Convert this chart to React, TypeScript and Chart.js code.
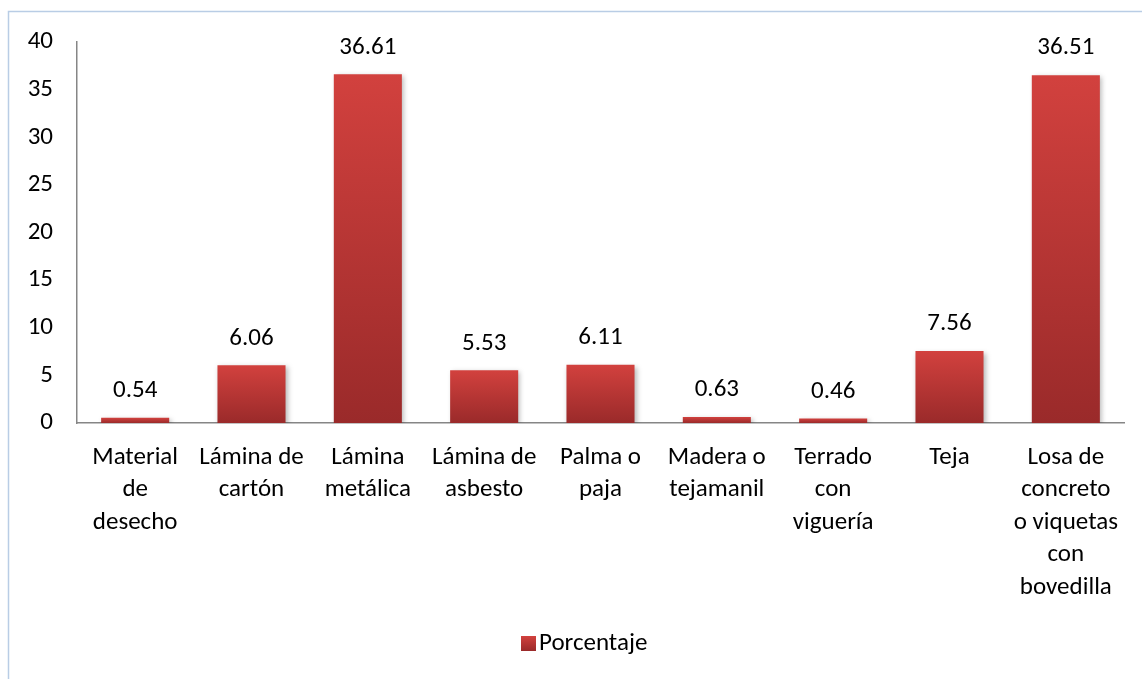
import React, { useEffect, useRef } from "react";
import { Chart, registerables } from "chart.js";

Chart.register(...registerables);

const categories: string[][] = [
  ["Material", "de", "desecho"],
  ["Lámina de", "cartón"],
  ["Lámina", "metálica"],
  ["Lámina de", "asbesto"],
  ["Palma o", "paja"],
  ["Madera o", "tejamanil"],
  ["Terrado", "con", "viguería"],
  ["Teja"],
  ["Losa de", "concreto", "o viquetas", "con", "bovedilla"],
];
const porcentaje: number[] = [0.54, 6.06, 36.61, 5.53, 6.11, 0.63, 0.46, 7.56, 36.51];
const seriesName = "Porcentaje";
const yTicks = { min: 0, max: 40, step: 5 };

const FONT = "Carlito, Calibri, Lato, 'Open Sans', sans-serif";
const FS = 25;
const TOP_COLOR = "#d2413e";
const BOTTOM_COLOR = "#9a2a2a";

function gradientFor(ctx: CanvasRenderingContext2D, top: number, bottom: number) {
  const g = ctx.createLinearGradient(0, top, 0, bottom);
  g.addColorStop(0, TOP_COLOR);
  g.addColorStop(1, BOTTOM_COLOR);
  return g;
}

const framePlugin = {
  id: "frame",
  beforeDraw(chart: any) {
    const c = chart.ctx;
    c.save();
    c.fillStyle = "#ffffff";
    c.fillRect(0, 0, chart.width, chart.height);
    c.strokeStyle = "#b9cde5";
    c.lineWidth = 1.5;
    c.beginPath();
    c.moveTo(8.5, chart.height + 5);
    c.lineTo(8.5, 11.5);
    c.lineTo(chart.width + 5, 11.5);
    c.stroke();
    c.restore();
  },
};

const shadowPlugin = {
  id: "barShadow",
  beforeDatasetsDraw(chart: any) {
    const c = chart.ctx;
    c.save();
    c.shadowColor = "rgba(0,0,0,0.28)";
    c.shadowBlur = 5;
    c.shadowOffsetX = 2;
    c.shadowOffsetY = 2;
  },
  afterDatasetsDraw(chart: any) {
    chart.ctx.restore();
  },
};

const labelPlugin = {
  id: "valueLabels",
  afterDatasetsDraw(chart: any) {
    const c = chart.ctx;
    const meta = chart.getDatasetMeta(0);
    c.save();
    c.fillStyle = "#000000";
    c.font = `${FS}px ${FONT}`;
    c.textAlign = "center";
    c.textBaseline = "middle";
    meta.data.forEach((el: any, i: number) => {
      c.fillText(porcentaje[i].toFixed(2), el.x, el.y - 27);
    });
    c.restore();
  },
};

const legendPlugin = {
  id: "customLegend",
  afterDraw(chart: any) {
    const c = chart.ctx;
    c.save();
    const bx = 521, by = 636, s = 15;
    c.fillStyle = gradientFor(c, by, by + s);
    c.fillRect(bx, by, s, s);
    c.fillStyle = "#000000";
    c.font = `${FS}px ${FONT}`;
    c.textAlign = "left";
    c.textBaseline = "middle";
    c.fillText(seriesName, bx + s + 3, by + s / 2);
    c.restore();
  },
};

export default function App() {
  const ref = useRef<HTMLCanvasElement | null>(null);
  useEffect(() => {
    if (!ref.current) return;
    const chart = new Chart(ref.current, {
      type: "bar",
      data: {
        labels: categories as any,
        datasets: [
          {
            label: seriesName,
            data: porcentaje,
            backgroundColor: (ctx: any) => {
              const ch = ctx.chart;
              const ys = ch.scales && ch.scales.y;
              if (!ys || ctx.raw === undefined) return TOP_COLOR;
              const top = ys.getPixelForValue(ctx.raw);
              const bottom = ys.getPixelForValue(0);
              if (!isFinite(top) || !isFinite(bottom) || bottom - top < 1) return TOP_COLOR;
              return gradientFor(ch.ctx, top, bottom);
            },
            borderWidth: 0,
            barPercentage: 0.585,
            categoryPercentage: 1,
          },
        ],
      },
      options: {
        animation: false,
        responsive: false,
        maintainAspectRatio: false,
        layout: { padding: { left: 0, right: 18, top: 42, bottom: 0 } },
        plugins: { legend: { display: false }, tooltip: { enabled: false } },
        scales: {
          x: {
            grid: { display: false, drawTicks: false },
            border: { display: true, color: "#868686", width: 1.5 },
            ticks: {
              autoSkip: false,
              maxRotation: 0,
              minRotation: 0,
              color: "#000000",
              padding: 18,
              font: { family: FONT, size: FS, lineHeight: 1.3 },
            },
            afterFit: (scale: any) => {
              scale.height = 679 - 423;
            },
          },
          y: {
            min: yTicks.min,
            max: yTicks.max,
            grid: { display: false, drawTicks: false },
            border: { display: true, color: "#868686", width: 1.5 },
            ticks: {
              stepSize: yTicks.step,
              color: "#000000",
              padding: 24,
              font: { family: FONT, size: FS },
            },
            afterFit: (scale: any) => {
              scale.width = 77;
            },
          },
        },
      },
      plugins: [framePlugin, shadowPlugin, labelPlugin, legendPlugin],
    });
    return () => chart.destroy();
  }, []);
  return (
    <div style={{ position: "fixed", left: 0, top: 0, width: 1142, height: 679 }}>
      <canvas ref={ref} width={1142} height={679} style={{ width: 1142, height: 679 }} />
    </div>
  );
}
